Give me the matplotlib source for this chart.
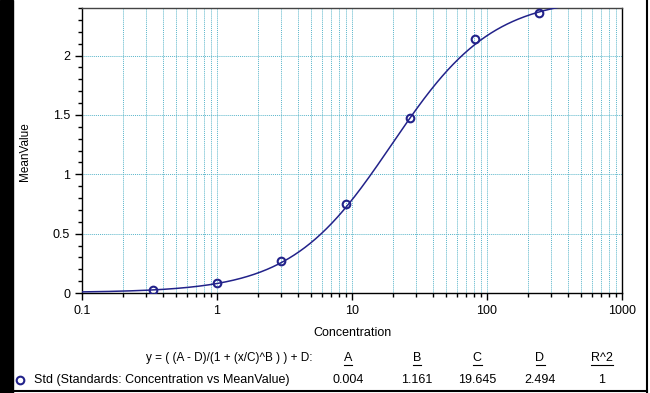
import numpy as np
import matplotlib
matplotlib.use("Agg")
import matplotlib.pyplot as plt
from matplotlib.ticker import LogLocator, MultipleLocator, FixedLocator
from matplotlib.lines import Line2D
from matplotlib.patches import Rectangle

plt.rcParams['font.family'] = ['Liberation Sans', 'DejaVu Sans']

# standards (3-fold dilution)
conc = [0.333, 1, 3, 9, 27, 81, 243]
mean_value = [0.025, 0.085, 0.27, 0.75, 1.47, 2.14, 2.36]

# 4PL fit coefficients printed under the chart
fit_names = ['A', 'B', 'C', 'D', 'R^2']
fit_labels = ['0.004', '1.161', '19.645', '2.494', '1']
A, B, C, D = 0.004, 1.161, 19.645, 2.494

navy = '#22228a'
grid_col = '#5ab6ca'

W, H = 650, 393
fig = plt.figure(figsize=(W / 100, H / 100), dpi=100)
ax = fig.add_axes([82 / W, 1 - 293 / H, 540 / W, 285 / H])

# fitted curve drawn from the printed equation
xs = np.logspace(-1, 3, 500)
ys = (A - D) / (1 + (xs / C) ** B) + D
ax.plot(xs, ys, color=navy, lw=1.1, zorder=3)
ax.plot(conc, mean_value, 'o', mfc='none', mec=navy, mew=1.5, ms=5.5, zorder=4)

ax.set_xscale('log')
ax.set_xlim(0.1, 1000)
ax.set_ylim(0, 2.4)
ax.xaxis.set_major_locator(FixedLocator([0.1, 1, 10, 100, 1000]))
ax.xaxis.set_minor_locator(LogLocator(base=10, subs=np.arange(2, 10), numticks=20))
ax.set_xticklabels(['0.1', '1', '10', '100', '1000'])
ax.xaxis.set_minor_formatter(plt.NullFormatter())
ax.yaxis.set_minor_locator(MultipleLocator(0.1))
ax.set_yticks([0, 0.5, 1, 1.5, 2])
ax.set_yticklabels(['0', '0.5', '1', '1.5', '2'])

ax.grid(True, which='both', axis='x', color=grid_col, ls=(0, (1, 1)), lw=0.7)
ax.grid(True, which='major', axis='y', color=grid_col, ls=(0, (1, 1)), lw=0.7)
ax.set_axisbelow(True)

ax.tick_params(which='major', direction='out', length=5, width=1, labelsize=9, color='black')
ax.tick_params(which='minor', direction='out', length=3, width=1, color='black')
ax.tick_params(axis='x', pad=4)
for s in ax.spines.values():
    s.set_linewidth(1)
ax.spines['top'].set_color('#444444')

def fx(px):
    return px / W

def fy(py):
    return 1 - py / H

fig.text(fx(352), fy(333), 'Concentration', ha='center', va='center', fontsize=9)
fig.text(fx(25), fy(152), 'MeanValue', ha='center', va='center', rotation=90, fontsize=8.5)

fig.text(fx(313), fy(358), 'y = ( (A - D)/(1 + (x/C)^B ) ) + D:', ha='right', va='center', fontsize=8.5)
fig.add_artist(Line2D([fx(20)], [fy(380)], marker='o', mfc='none', mec=navy, mew=1.5, ms=5.5))
fig.text(fx(34), fy(380), 'Std (Standards: Concentration vs MeanValue)', ha='left', va='center', fontsize=9)

col_x = [348, 417, 477, 540, 602]
renderer = fig.canvas.get_renderer()
for cx, name, val in zip(col_x, fit_names, fit_labels):
    t = fig.text(fx(cx), fy(358), name, ha='center', va='center', fontsize=9)
    fig.text(fx(cx), fy(380), val, ha='center', va='center', fontsize=9)
    bb = t.get_window_extent(renderer)
    fig.add_artist(Line2D([bb.x0 / W, bb.x1 / W], [(bb.y0 - 1) / H] * 2, color='black', lw=0.8))

# dark frame of the screenshot
fig.add_artist(Rectangle((0, 0), 13 / W, 1, transform=fig.transFigure, color='black'))
fig.add_artist(Line2D([fx(13), fx(647)], [fy(391)] * 2, color='black', lw=1.5))
fig.add_artist(Line2D([fx(646.5)] * 2, [0, 1], color='black', lw=1.5))

fig.savefig('out.png', dpi=100)
